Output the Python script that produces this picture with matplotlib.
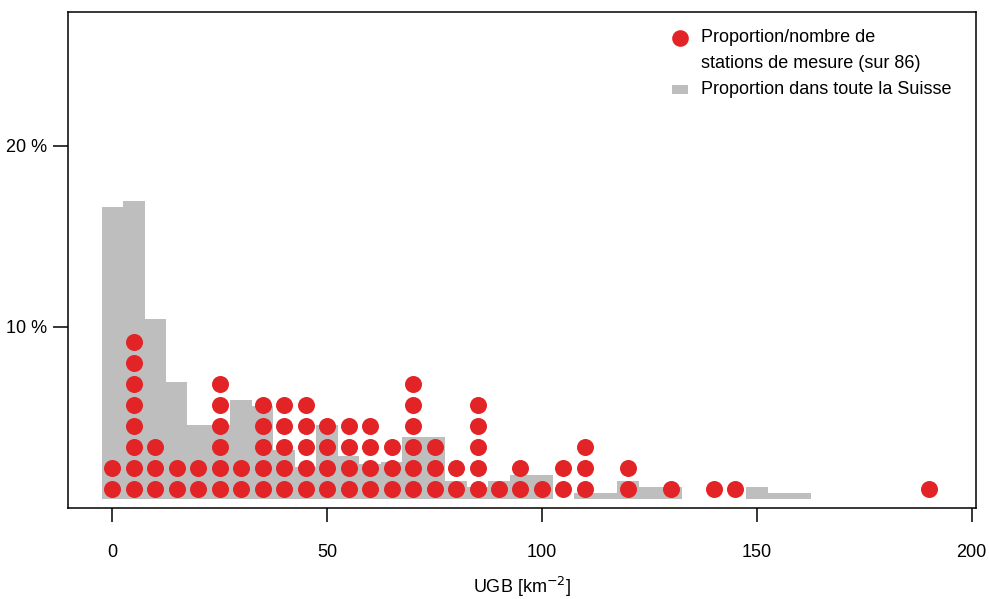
import numpy as np
import matplotlib
matplotlib.use('Agg')
import matplotlib.pyplot as plt
from matplotlib.patches import Rectangle

plt.rcParams['font.family'] = ['Liberation Sans', 'DejaVu Sans']

# proportion of Switzerland per UGB class (bin centres, width 5)
bin_centres = [0, 5, 10, 15, 20, 25, 30, 35, 40, 45, 50, 55, 60, 65, 70, 75, 80,
               85, 90, 95, 100, 105, 110, 115, 120, 125, 130, 135, 140, 145, 150, 155, 160]
swiss_share = [16.18, 16.51, 9.96, 6.49, 4.10, 4.10, 5.48, 5.15, 2.71, 1.77, 4.10,
               2.38, 1.94, 2.05, 3.43, 3.43, 1.00, 0.66, 1.00, 1.33, 1.33, 0.0, 0.33,
               0.33, 1.00, 0.66, 0.66, 0.0, 0.0, 0.0, 0.66, 0.33, 0.33]

# number of measuring stations per UGB value (86 in total)
station_ugb = [0, 5, 10, 15, 20, 25, 30, 35, 40, 45, 50, 55, 60, 65, 70, 75, 80,
               85, 90, 95, 100, 105, 110, 120, 130, 140, 145, 190]
station_count = [2, 8, 3, 2, 2, 6, 2, 5, 5, 5, 4, 4, 4, 3, 6, 3, 2,
                 5, 1, 2, 1, 2, 3, 2, 1, 1, 1, 1]
n_total = 86

base = 0.47          # baseline of bars/dots on the plot
bin_width = 5
red = '#e32427'
grey = '#bebebe'
fs = 13

fig = plt.figure(figsize=(9.89, 5.99), dpi=100)
ax = fig.add_axes([0.0688, 0.152, 0.918, 0.828])

# grey histogram (step style, no gaps)
ax.bar(bin_centres, swiss_share, width=bin_width, bottom=base, color=grey,
       linewidth=0, zorder=1)

# stacked dots, one per station
xs, ys = [], []
for x, c in zip(station_ugb, station_count):
    for k in range(1, c + 1):
        xs.append(x)
        ys.append(base + (k - 0.5) * 100 / n_total)
ax.scatter(xs, ys, s=150, color=red, linewidths=0, zorder=2)

ax.set_xlim(-10.3, 201)
ax.set_ylim(0, 27.4)
ax.set_xticks([0, 50, 100, 150, 200])
ax.set_yticks([10, 20])
ax.set_yticklabels(['10 %', '20 %'])
ax.tick_params(axis='x', length=10, width=1.1, pad=16, labelsize=fs)
ax.tick_params(axis='y', length=11, width=1.1, pad=4, labelsize=fs)
for s in ax.spines.values():
    s.set_linewidth(1.1)
ax.set_xlabel('UGB [km$^{-2}$]', fontsize=fs, labelpad=10)

# legend
ax.plot([0.674], [0.9476], 'o', color=red, markersize=12, markeredgewidth=0,
        transform=ax.transAxes, clip_on=False)
ax.add_patch(Rectangle((0.6652, 0.8345), 0.0176, 0.019, transform=ax.transAxes,
                       facecolor=grey, edgecolor='none'))
ax.text(0.697, 0.9476, 'Proportion/nombre de', transform=ax.transAxes,
        fontsize=fs, va='center', ha='left')
ax.text(0.697, 0.8955, 'stations de mesure (sur 86)', transform=ax.transAxes,
        fontsize=fs, va='center', ha='left')
ax.text(0.697, 0.8435, 'Proportion dans toute la Suisse', transform=ax.transAxes,
        fontsize=fs, va='center', ha='left')

fig.savefig('out.png', dpi=100)
